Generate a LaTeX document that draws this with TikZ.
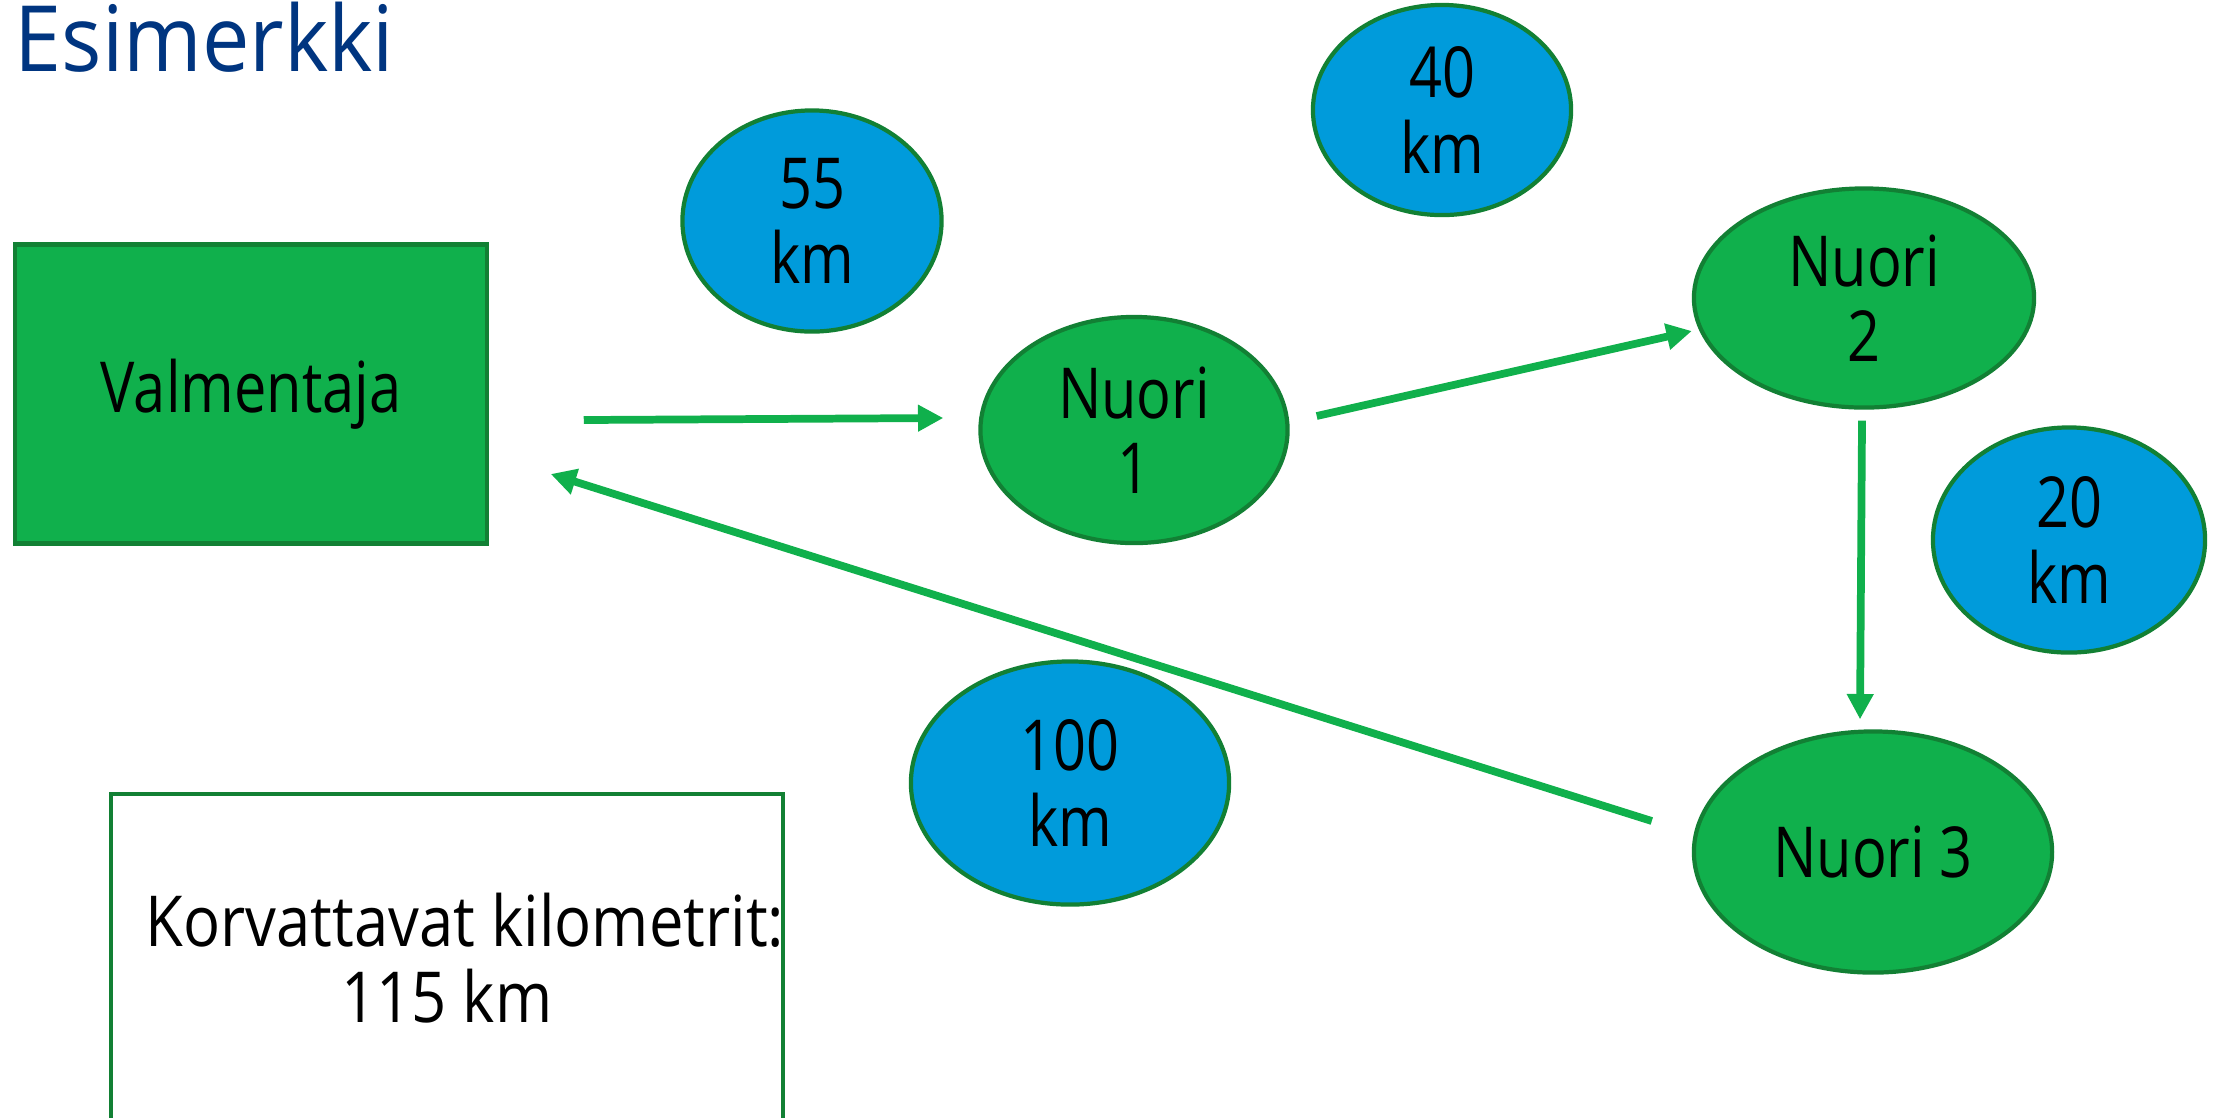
\documentclass[tikz,border=0pt]{standalone}
\usepackage{fontspec}
\setmainfont{Open Sans}[FakeStretch=0.82]
\newfontfamily\otsikkofont{Open Sans}[FakeStretch=0.925]
\newfontfamily\tulosfont{Open Sans}[FakeStretch=0.875]
\usetikzlibrary{shapes.geometric,arrows.meta}
\definecolor{vihrea}{RGB}{16,176,76}
\definecolor{reuna}{RGB}{18,128,52}
\definecolor{sininen}{RGB}{0,155,219}
\definecolor{otsikko}{RGB}{0,53,128}
\tikzset{
	valmbox/.style={rectangle, draw=reuna, line width=1.2pt, fill=vihrea, minimum width=4.71cm, minimum height=2.99cm},
	nuori/.style={ellipse, draw=reuna, line width=1.2pt, fill=vihrea, inner sep=0pt, align=center},
	matka/.style={ellipse, draw=reuna, line width=1.2pt, fill=sininen, inner sep=0pt, align=center},
	arr/.style={draw=vihrea, line width=2.2pt, -{Triangle[length=7.2pt,width=7.2pt]}}
}
\begin{document}
\begin{tikzpicture}[x=0.01cm, y=-0.01cm, font=\fontsize{20}{21.5}\selectfont]
			\useasboundingbox (0,0) rectangle (2219,1117);
			\clip (0,0) rectangle (2219,1117);
			% Title
			\node[anchor=base west, inner sep=0pt, text=otsikko, font=\otsikkofont\fontsize{26}{30}\selectfont] (title) at (14,71) {Esimerkki};
			% Draw coach and youths
			\node[valmbox] (valm) at (251,394) {Valmentaja};
			\node[nuori, minimum width=3.07cm, minimum height=2.26cm] (n1) at (1134,430) {Nuori\\1};
			\node[nuori, minimum width=3.40cm, minimum height=2.19cm] (n2) at (1864,298) {Nuori\\2};
			\node[nuori, minimum width=3.58cm, minimum height=2.41cm] (n3) at (1873,852) {Nuori 3};
			% Draw distances
			\node[matka, minimum width=2.59cm, minimum height=2.21cm] (d55) at (812,221) {55\\km};
			\node[matka, minimum width=2.58cm, minimum height=2.10cm] (d40) at (1442,110) {40\\km};
			\node[matka, minimum width=2.72cm, minimum height=2.25cm] (d20) at (2069,540) {20\\km};
			\node[matka, minimum width=3.18cm, minimum height=2.43cm] (d100) at (1070,783) {100\\km};
			% Draw route
			\draw[arr] ([shift={(95,26)}]valm.east) -- ([shift={(-35,-12)}]n1.west);
			\draw[arr] ([shift={(27,-14)}]n1.east) -- ([shift={(0,33)}]n2.west);
			\draw[arr] ([shift={(-2,11)}]n2.south) -- ([shift={(-13,-10)}]n3.north);
			\draw[arr] ([shift={(-40,-31)}]n3.west) -- ([shift={(62,80)}]valm.east);
			% Result box
			\node[draw=reuna, line width=1pt, minimum width=6.72cm, minimum height=3.6cm, anchor=north] (tulos) at (447,792) {};
			\node[align=center, font=\tulosfont\fontsize{20}{21.5}\selectfont] (summa) at (447,958) {\hspace*{.36cm}Korvattavat kilometrit:\\115 km};
		\end{tikzpicture}
\end{document}
